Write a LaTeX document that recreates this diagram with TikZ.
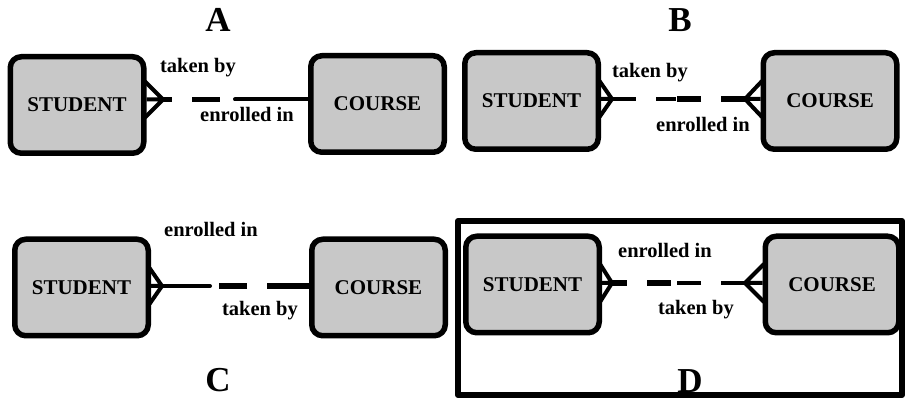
\documentclass[tikz,border=0pt]{standalone}
\usepackage{fontspec}
\setmainfont{Liberation Serif}
\usepackage{tikz}
\definecolor{boxgray}{RGB}{200,200,200}

\begin{document}
\begin{tikzpicture}[line join=round,
    entity/.style={draw,fill=boxgray,line width=5.5bp,rounded corners=11bp,minimum width=133.5bp,minimum height=96.5bp,font=\fontsize{21bp}{25bp}\selectfont\bfseries},
    lbl/.style={anchor=base,font=\fontsize{20.5bp}{24bp}\selectfont\bfseries},
    ttl/.style={anchor=base,font=\fontsize{35bp}{40bp}\selectfont\bfseries},
    crow/.style={line width=4bp},
    must/.style={line width=4bp,line cap=round},
    opt/.style={line width=5.5bp,dash pattern=on 24bp off 20bp},
    optthin/.style={line width=4bp,dash pattern=on 24bp off 20bp}]
  \useasboundingbox (0bp,0bp) rectangle (906bp,398bp);
  % A
  \node (sa) at (77bp,293bp) [entity] {STUDENT};
  \node (ca) at (377.5bp,294bp) [entity] {COURSE};
  \coordinate (afoot) at (163bp,298.5bp);
  \coordinate (amid) at (235bp,298.5bp);
  \node (ta) at (218bp,366bp) [ttl] {A};
  \node (ab) at (198bp,325bp) [lbl] {taken by};
  \node (ae) at (247bp,276bp) [lbl] {enrolled in};
  \draw [crow] (afoot) -- (afoot -| sa.east) (afoot) -- +(-18bp,18bp) (afoot) -- +(-18bp,-18bp);
  \draw [opt,dash pattern=on 28bp off 20bp,dash phase=19bp] (afoot) -- (amid);
  \draw [must] (amid) -- (amid -| ca.west);
  % B
  \node (sb) at (531.5bp,297bp) [entity] {STUDENT};
  \node (cb) at (830bp,297bp) [entity] {COURSE};
  \coordinate (bsfoot) at (612bp,299bp);
  \coordinate (bcfoot) at (745bp,299bp);
  \coordinate (bmid) at (676bp,299bp);
  \node (tb) at (680bp,366bp) [ttl] {B};
  \node (bb) at (650bp,320bp) [lbl] {taken by};
  \node (be) at (703bp,266bp) [lbl] {enrolled in};
  \draw [crow] (bsfoot) -- (bsfoot -| sb.east) (bsfoot) -- +(-12.5bp,18bp) (bsfoot) -- +(-12.5bp,-18bp);
  \draw [crow] (bcfoot) -- (bcfoot -| cb.west) (bcfoot) -- +(17bp,18bp) (bcfoot) -- +(17bp,-18bp);
  \draw [optthin] (bsfoot) -- (bmid);
  \draw [opt] (bcfoot) -- (bmid);
  % C
  \node (sc) at (81.5bp,110.5bp) [entity] {STUDENT};
  \node (cc) at (378.5bp,110.5bp) [entity] {COURSE};
  \coordinate (cfoot) at (162bp,112bp);
  \coordinate (cmid) at (210bp,112bp);
  \node (tc) at (218bp,7bp) [ttl] {C};
  \node (ce) at (211bp,161bp) [lbl] {enrolled in};
  \node (cb2) at (260bp,82bp) [lbl] {taken by};
  \draw [crow] (cfoot) -- (cfoot -| sc.east) (cfoot) -- +(-12.5bp,18bp) (cfoot) -- +(-12.5bp,-18bp);
  \draw [must] (cfoot) -- (cmid);
  \draw [opt,dash pattern=on 42bp off 20bp on 28bp off 20bp] (cmid -| cc.west) -- (cmid);
  % D
  \draw [line width=6bp] (458bp,3bp) rectangle (902bp,177bp);
  \node (sd) at (532.5bp,113.5bp) [entity] {STUDENT};
  \node (cd) at (832bp,113.5bp) [entity] {COURSE};
  \coordinate (dsfoot) at (612bp,115bp);
  \coordinate (dcfoot) at (745bp,115bp);
  \coordinate (dmid) at (672bp,115bp);
  \node (td) at (690bp,6bp) [ttl] {D};
  \node (de) at (665bp,140bp) [lbl] {enrolled in};
  \node (db) at (696bp,83bp) [lbl] {taken by};
  \draw [crow] (dsfoot) -- (dsfoot -| sd.east) (dsfoot) -- +(-12bp,19bp) (dsfoot) -- +(-12bp,-19bp);
  \draw [crow] (dcfoot) -- (dcfoot -| cd.west) (dcfoot) -- +(19bp,19bp) (dcfoot) -- +(19bp,-19bp);
  \draw [opt,dash phase=9bp] (dsfoot) -- (dmid);
  \draw [optthin] (dcfoot) -- (dmid);
\end{tikzpicture}
\end{document}
